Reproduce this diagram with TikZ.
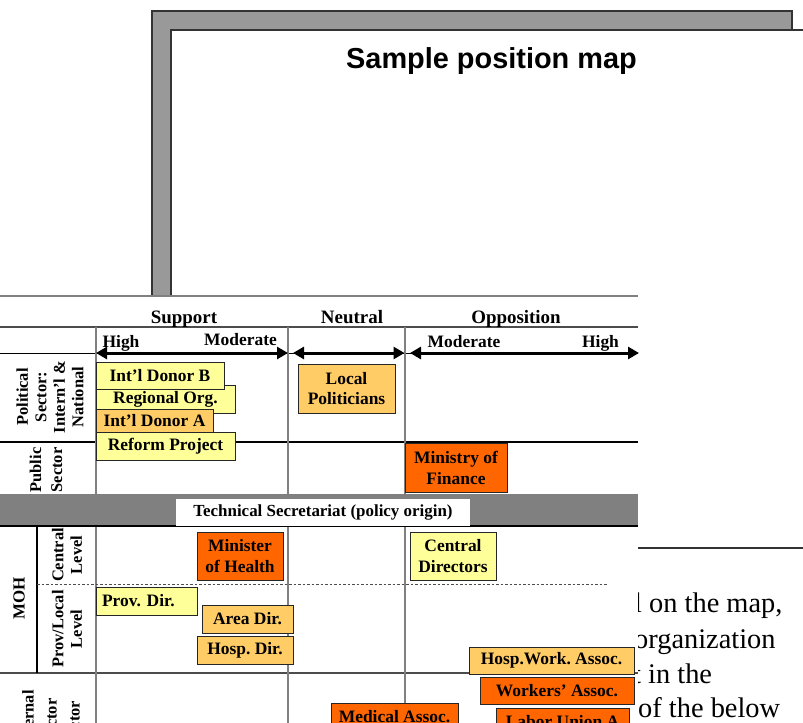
\documentclass[tikz,border=0pt]{standalone}
\usepackage{fontspec}
\setmainfont{Liberation Serif}
\newfontfamily\titlefont{Liberation Sans}
\usetikzlibrary{arrows.meta}
\definecolor{boxyellow}{HTML}{FFFF99}
\definecolor{boxorange}{HTML}{FFCC66}
\definecolor{boxdark}{HTML}{FF6600}
\definecolor{framegray}{HTML}{999999}
\definecolor{framedark}{HTML}{333333}
\definecolor{bandgray}{HTML}{808080}
\definecolor{gridgray}{HTML}{808080}
\frenchspacing
\begin{document}
\frenchspacing
\begin{tikzpicture}[x=1bp,y=-1bp,
  box/.style={draw=black!85, line width=0.9bp, inner sep=0pt, align=center,
    font=\fontsize{17.5}{21}\selectfont\bfseries},
  yel/.style={box, fill=boxyellow},
  org/.style={box, fill=boxorange},
  dorg/.style={box, fill=boxdark},
  head/.style={font=\fontsize{19}{22}\selectfont\bfseries, inner sep=0pt, anchor=base},
  subhead/.style={font=\fontsize{17.5}{21}\selectfont\bfseries, inner sep=0pt, anchor=base},
  rowlab/.style={font=\fontsize{16.5}{18.5}\selectfont\bfseries, inner sep=0pt, align=center, rotate=90},
  bodytext/.style={font=\fontsize{28.5}{34}\selectfont, inner sep=0pt, anchor=base west},
  gridline/.style={draw=gridgray, line width=1.3bp},
  blackline/.style={draw=black, line width=1.2bp},
  scalearrow/.style={line width=3bp, {Triangle[length=11bp,width=12bp]}-{Triangle[length=11bp,width=12bp]}}
]
\useasboundingbox (0,0) rectangle (803,723);
\clip (0,0) rectangle (803,723);
% ---------------- slide frame ----------------
\path[draw=framedark, line width=1.2bp, fill=framegray] (152,11) rectangle (792,529);
\path[draw=framedark, line width=1.2bp, fill=white] (171,30) rectangle (830,548);
\draw[framedark, line width=2bp] (171,548) -- (803,548);
\node[font=\titlefont\bfseries\fontsize{29}{34}\selectfont, anchor=base, inner sep=0pt] (title) at (491.5,69) {Sample position map};
% ---------------- body text behind table ----------------
\node[bodytext] (t1) at (634,612) {l on the map,};
\node[bodytext] (t2) at (634,648) {organization};
\node[bodytext] (t3) at (633,683) {t in the};
\node[bodytext] (t4) at (638,717) {of the below};
% ---------------- table ----------------
\fill[white] (0,296) rectangle (638,740);
\draw[gridline] (0,296) -- (638,296);
\draw[draw=black!70, line width=1.2bp] (0,327) -- (638,327);
\draw[blackline, line width=1bp] (0,353) -- (638,353);
\draw[blackline] (0,442) -- (638,442);
\draw[draw=black!70, line width=1.2bp] (0,673) -- (638,673);
% vertical lines
\draw[gridline] (96,327) -- (96,494);
\draw[gridline] (288,327) -- (288,494);
\draw[gridline] (405,327) -- (405,494);
\draw[gridline] (96,526) -- (96,740);
\draw[gridline] (288,526) -- (288,740);
\draw[gridline] (405,526) -- (405,740);
\draw[draw=black, line width=1.2bp] (37,526) -- (37,673);
\draw[draw=black!70, line width=0.8bp, dash pattern=on 2.5bp off 2bp] (37,584) -- (607,584);
% band
\path[fill=bandgray] (0,494.5) rectangle (638,526);
\draw[gridline] (0,494.5) -- (638,494.5);
\draw[blackline] (0,526) -- (638,526);
\node[fill=white, inner sep=0pt, minimum width=294bp, minimum height=27bp,
  font=\fontsize{17}{20}\selectfont\bfseries] (techsec) at (323,512.5) {Technical Secretariat (policy origin)};
% headers
\node[head] (support) at (184,323) {Support};
\node[head] (neutral) at (352,323) {Neutral};
\node[head] (opposition) at (516,323) {Opposition};
\node[subhead] (high1) at (121,347) {High};
\node[subhead] (mod1) at (240.5,345) {Moderate};
\node[subhead] (mod2) at (464,347) {Moderate};
\node[subhead] (high2) at (600.5,347) {High};
% scale arrows
\coordinate (sa1) at (96,353); \coordinate (sa2) at (288,353);
\coordinate (na1) at (293,353); \coordinate (na2) at (404.5,353);
\coordinate (oa1) at (410,353); \coordinate (oa2) at (639,353);
\draw[scalearrow] (sa1) -- (sa2);
\draw[scalearrow] (na1) -- (na2);
\draw[scalearrow] (oa1) -- (oa2);
% row labels
\node[rowlab] (lpol) at (50,397) {Political\\Sector:\\Intern’l \&\\National};
\node[rowlab, font=\fontsize{16.5}{21}\selectfont\bfseries] (lpub) at (46,470) {Public\\Sector};
\node[rowlab, font=\fontsize{17}{20}\selectfont\bfseries] (lmoh) at (19,598) {MOH};
\node[rowlab] (lcen) at (67,555) {Central\\Level};
\node[rowlab] (lprov) at (67,629) {Prov/Local\\Level};
\node[rowlab, font=\fontsize{16.5}{23}\selectfont\bfseries] (lext) at (51,721) {External\\Sector\\Actor};
% boxes
\node[yel, minimum width=139bp, minimum height=28bp] (regorg) at (165.5,399) {Regional Org.};
\node[yel, minimum width=128bp, minimum height=27bp] (donorB) at (160,375.5) {Int’l Donor B};
\node[org, minimum width=117bp, minimum height=24bp] (donorA) at (154.5,421) {Int’l Donor A};
\node[yel, minimum width=139bp, minimum height=28bp] (reform) at (165.5,446) {Reform Project};
\node[org, minimum width=97bp, minimum height=49bp] (localpol) at (346.5,388.5) {Local\\Politicians};
\node[dorg, minimum width=102bp, minimum height=49bp] (minfin) at (456,467.5) {Ministry of\\Finance};
\node[dorg, minimum width=86bp, minimum height=48bp] (minhealth) at (240,556) {Minister\\of Health};
\node[yel, minimum width=86bp, minimum height=48bp] (centdir) at (453,556) {Central\\Directors};
\node[yel, text width=89bp, align=left, inner xsep=6bp, minimum height=28bp] (provdir) at (146.5,601) {Prov. Dir.};
\node[org, minimum width=91bp, minimum height=28bp] (areadir) at (247.5,619) {Area Dir.};
\node[org, minimum width=96bp, minimum height=28bp] (hospdir) at (245,650) {Hosp. Dir.};
\node[org, minimum width=165bp, minimum height=27bp] (hospwork) at (551.5,660.5) {Hosp.Work. Assoc.};
\node[dorg, minimum width=154bp, minimum height=27bp] (workers) at (557,690.5) {Workers’ Assoc.};
\node[dorg, minimum width=127bp, minimum height=28bp] (medical) at (394.5,717) {Medical Assoc.};
\node[dorg, minimum width=133bp, minimum height=28bp] (labor) at (562.5,722) {Labor Union A};
\end{tikzpicture}
\end{document}
